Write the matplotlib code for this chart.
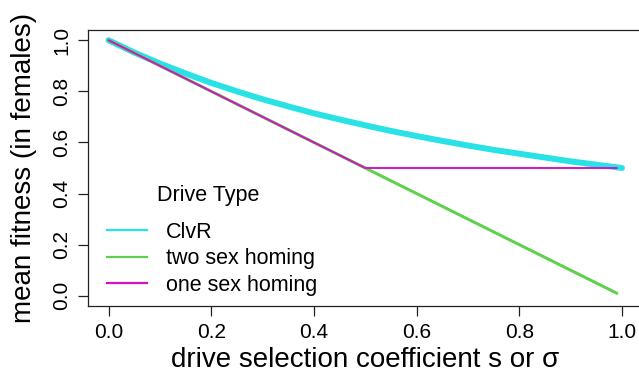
import matplotlib
matplotlib.use("Agg")
import matplotlib.pyplot as plt
from matplotlib.lines import Line2D

plt.rcParams['font.family'] = ['Liberation Sans', 'DejaVu Sans']

# Data
clvr_s = [0.00, 0.05, 0.10, 0.15, 0.20, 0.25, 0.30, 0.35, 0.40, 0.45, 0.50,
          0.55, 0.60, 0.65, 0.70, 0.75, 0.80, 0.85, 0.90, 0.95, 1.00]
clvr_fit = [1.000, 0.952, 0.909, 0.870, 0.833, 0.800, 0.769, 0.741, 0.714, 0.690, 0.667,
            0.645, 0.625, 0.606, 0.588, 0.571, 0.556, 0.541, 0.526, 0.513, 0.500]
two_s = [0.00, 0.99]
two_fit = [1.00, 0.01]
one_s = [0.00, 0.50, 0.99]
one_fit = [1.00, 0.50, 0.50]

x_ticks = [0.0, 0.2, 0.4, 0.6, 0.8, 1.0]
y_ticks = [0.0, 0.2, 0.4, 0.6, 0.8, 1.0]
labels = ["ClvR", "two sex homing", "one sex homing"]
legend_title = "Drive Type"
colors = ["#28E2E5", "#61D04F", "#D214C8"]

W, H = 639, 375
fig = plt.figure(figsize=(W/100, H/100), dpi=100)
ax = fig.add_axes([88/W, 69/H, (642.5-88)/W, (306-30)/H])

ax.plot(clvr_s, clvr_fit, color=colors[0], lw=4.3, solid_capstyle='round')
ax.plot(two_s, two_fit, color=colors[1], lw=2.2, solid_capstyle='round')
ax.plot(one_s, one_fit, color=colors[2], lw=1.4, solid_capstyle='round')

ax.set_xlim(-0.04, 1.04)
ax.set_ylim(-0.04, 1.04)
ax.set_xticks(x_ticks)
ax.set_yticks(y_ticks)
ax.set_xticklabels([f"{v:.1f}" for v in x_ticks], fontsize=15)
ax.set_yticklabels([f"{v:.1f}" for v in y_ticks], fontsize=15, rotation=90, va='center')
ax.tick_params(axis='both', direction='out', length=7, width=0.9, color='#222222', pad=5)
for sp in ax.spines.values():
    sp.set_linewidth(0.9)
    sp.set_color('#222222')

ax.set_xlabel("drive selection coefficient s or σ", fontsize=20, labelpad=4)
ax.set_ylabel("mean fitness (in females)", fontsize=20, labelpad=11)

handles = [Line2D([0], [0], color=c, lw=1.6) for c in colors]
leg = fig.legend(handles, labels, loc='upper left',
                 bbox_to_anchor=(107/W, 1 - 222/H), frameon=False, fontsize=15.5,
                 borderpad=0, borderaxespad=0, handlelength=1.86,
                 handletextpad=0.88, labelspacing=0.25)
fig.text(208/W, 1 - 195/H, legend_title, fontsize=15.5, ha='center', va='center')

fig.savefig("out.png", dpi=100)
